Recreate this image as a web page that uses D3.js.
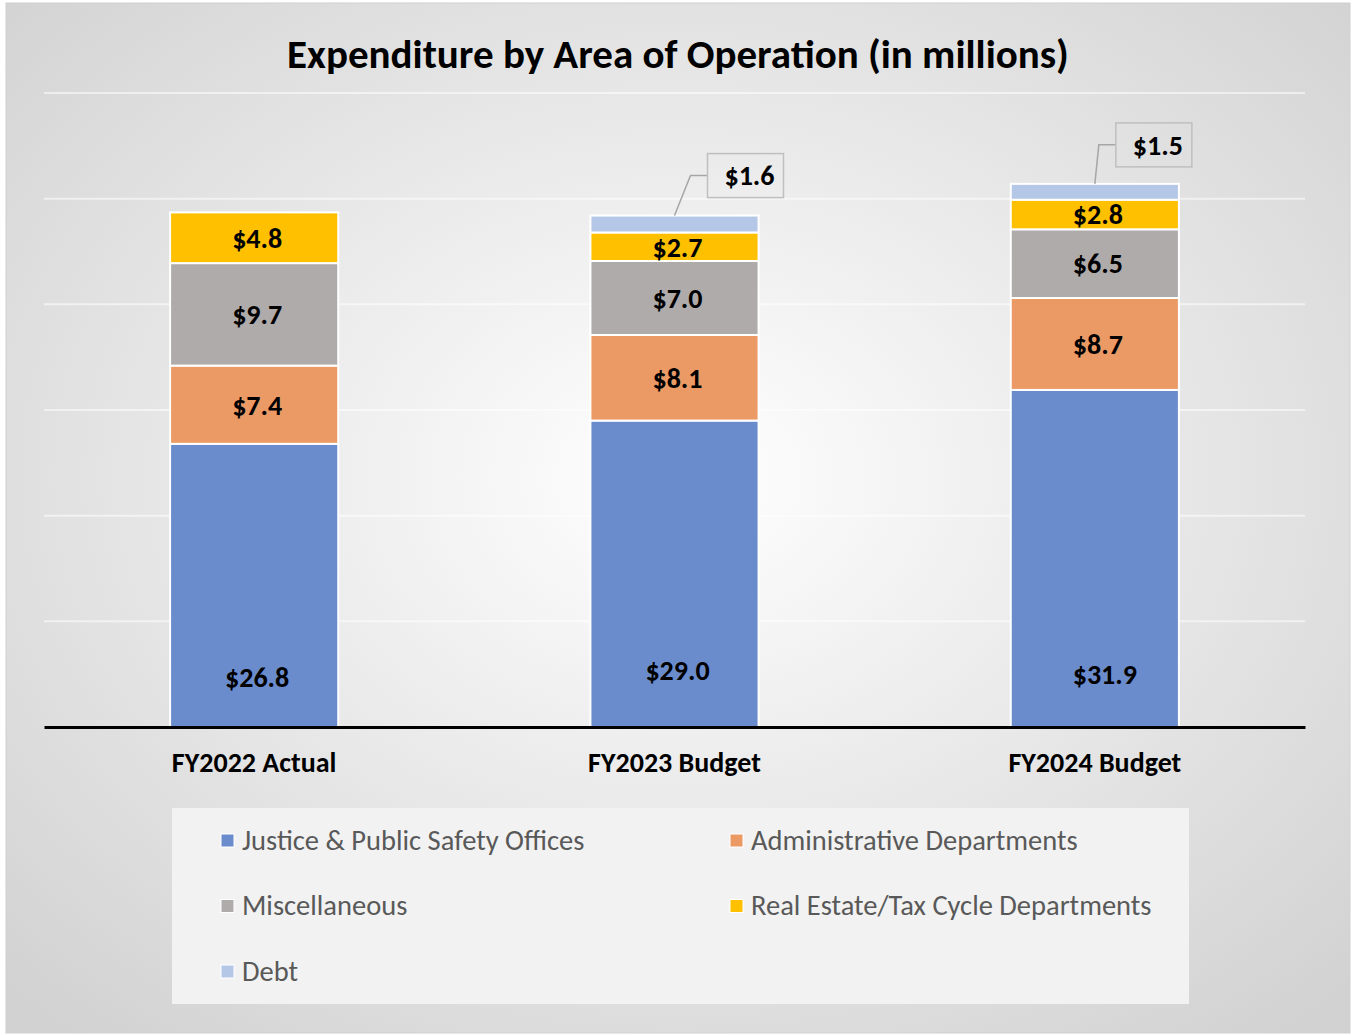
<!DOCTYPE html>
<html>
<head>
<meta charset="utf-8">
<script src="https://cdn.jsdelivr.net/npm/d3@7"></script>
<style>
  body { margin: 0; background: #fff; }
  text { font-family: Carlito, Lato, "Open Sans", sans-serif; }
</style>
</head>
<body>
<div class="chart"></div>
<script>
// data
const categories = ["FY2022 Actual", "FY2023 Budget", "FY2024 Budget"];
const seriesNames = ["Justice & Public Safety Offices", "Administrative Departments", "Miscellaneous", "Real Estate/Tax Cycle Departments", "Debt"];
const justice = [26.8, 29.0, 31.9];
const admin = [7.4, 8.1, 8.7];
const misc = [9.7, 7.0, 6.5];
const realEstate = [4.8, 2.7, 2.8];
const debt = [0, 1.6, 1.5];
const yTicks = [0, 10, 20, 30, 40, 50, 60];

const colors = ["#6a8ccd", "#ec9a65", "#afabab", "#ffc000", "#b4c7e7"];

const W = 1356, H = 1035;
const margin = { top: 93, right: 51, bottom: 308, left: 44 };
const labelSize = "28px";

const svg = d3.select(".chart").append("svg")
    .attr("width", W)
    .attr("height", H);

// background with radial gradient
const defs = svg.append("defs");
const grad = defs.append("radialGradient").attr("id", "bg")
    .attr("cx", "50%").attr("cy", "46%").attr("r", "70%");
grad.append("stop").attr("offset", "0%").attr("stop-color", "#ffffff");
grad.append("stop").attr("offset", "100%").attr("stop-color", "#d2d2d2");

svg.append("rect")
    .attr("x", 6).attr("y", 3)
    .attr("width", 1344).attr("height", 1030)
    .attr("fill", "url(#bg)")
    .attr("stroke", "#d0d0d0");

svg.append("text")
    .attr("x", 678).attr("y", 68)
    .attr("text-anchor", "middle")
    .attr("font-size", "41px")
    .attr("font-weight", "bold")
    .attr("fill", "#000")
    .text("Expenditure by Area of Operation (in millions)");

const x = d3.scaleBand()
    .domain(categories)
    .range([margin.left, W - margin.right])
    .paddingInner(0.6)
    .paddingOuter(0.3);

const y = d3.scaleLinear()
    .domain([0, 60])
    .range([H - margin.bottom, margin.top]);

// gridlines
svg.selectAll(".grid")
    .data(yTicks.slice(1))
    .enter()
    .append("line")
    .attr("x1", margin.left).attr("x2", W - margin.right)
    .attr("y1", d => y(d)).attr("y2", d => y(d))
    .attr("stroke", "#ffffff")
    .attr("stroke-opacity", 0.55)
    .attr("stroke-width", 2);

// stacked data
const rows = categories.map((c, i) => ({
    cat: c,
    s0: justice[i], s1: admin[i], s2: misc[i], s3: realEstate[i], s4: debt[i]
}));
const stack = d3.stack().keys(["s0", "s1", "s2", "s3", "s4"]);
const layers = stack(rows);

const g = svg.append("g");
layers.forEach((layer, k) => {
    g.selectAll(null)
        .data(layer.filter(d => d[1] - d[0] > 0))
        .enter()
        .append("rect")
        .attr("x", d => x(d.data.cat))
        .attr("y", d => y(d[1]))
        .attr("width", x.bandwidth())
        .attr("height", d => y(d[0]) - y(d[1]))
        .attr("fill", colors[k])
        .attr("stroke", "#ffffff")
        .attr("stroke-width", 2);
});

// axis line
svg.append("g")
    .attr("transform", `translate(0,${y(0)})`)
    .call(d3.axisBottom(x).tickSize(0).tickPadding(25))
    .call(a => a.select(".domain").attr("stroke", "#000").attr("stroke-width", 3))
    .call(a => a.selectAll("text")
        .attr("font-size", labelSize)
        .attr("font-weight", "bold")
        .attr("fill", "#000")
        .style("font-family", "Carlito, Lato, 'Open Sans', sans-serif"));

const fmt = v => "$" + v.toFixed(1);

// segment labels (layers 1..3 centered)
[1, 2, 3].forEach(k => {
    g.selectAll(null)
        .data(layers[k])
        .enter()
        .append("text")
        .attr("x", d => x(d.data.cat) + x.bandwidth() / 2 + 3)
        .attr("y", d => (y(d[0]) + y(d[1])) / 2)
        .attr("dy", "0.35em")
        .attr("text-anchor", "middle")
        .attr("font-size", labelSize)
        .attr("font-weight", "bold")
        .attr("fill", "#000")
        .text(d => fmt(d[1] - d[0]));
});

// justice labels near the base
const baseNudge = [[3, -50], [3, -57], [10, -53]];
g.selectAll(null)
    .data(layers[0])
    .enter()
    .append("text")
    .attr("x", (d, i) => x(d.data.cat) + x.bandwidth() / 2 + baseNudge[i][0])
    .attr("y", (d, i) => y(0) + baseNudge[i][1])
    .attr("dy", "0.35em")
    .attr("text-anchor", "middle")
    .attr("font-size", labelSize)
    .attr("font-weight", "bold")
    .attr("fill", "#000")
    .text(d => fmt(d[1] - d[0]));

// debt callouts
const callout = [null, { bx: 33, by: -40 }, { bx: 21, by: -39 }];
layers[4].forEach((d, i) => {
    if (d[1] - d[0] <= 0) return;
    const cx = x(d.data.cat) + x.bandwidth() / 2;
    const top = y(d[1]);
    const c = callout[i];
    const boxW = 76, boxH = 44;
    const bxL = cx + c.bx, byC = top + c.by;
    g.append("polyline")
        .attr("points", [[cx, top], [cx + c.bx - 17, byC], [bxL, byC]].map(p => p.join(",")).join(" "))
        .attr("fill", "none")
        .attr("stroke", "#a6a6a6")
        .attr("stroke-width", 1.5);
    g.append("rect")
        .attr("x", bxL).attr("y", byC - boxH / 2)
        .attr("width", boxW).attr("height", boxH)
        .attr("fill", "none")
        .attr("stroke", "#bfbfbf")
        .attr("stroke-width", 1.5);
    g.append("text")
        .attr("x", bxL + boxW / 2 + 4).attr("y", byC)
        .attr("dy", "0.35em")
        .attr("text-anchor", "middle")
        .attr("font-size", labelSize)
        .attr("font-weight", "bold")
        .attr("fill", "#000")
        .text(fmt(d[1] - d[0]));
});

// legend
const legend = svg.append("g");
legend.append("rect")
    .attr("x", 172).attr("y", 808)
    .attr("width", 1017).attr("height", 196)
    .attr("fill", "#f2f2f2");

const item = legend.selectAll(".item")
    .data(seriesNames)
    .enter()
    .append("g")
    .attr("transform", (d, i) => `translate(${i % 2 === 0 ? 221 : 730},${840 + Math.floor(i / 2) * 65.5})`);

item.append("rect")
    .attr("x", 0).attr("y", -6)
    .attr("width", 13).attr("height", 13)
    .attr("fill", (d, i) => colors[i])
    .attr("stroke", "#ffffff")
    .attr("stroke-width", 1);

item.append("text")
    .attr("x", 21).attr("y", 0)
    .attr("dy", "0.35em")
    .attr("font-size", "28.5px")
    .attr("fill", "#595959")
    .text(d => d);
</script>
</body>
</html>
